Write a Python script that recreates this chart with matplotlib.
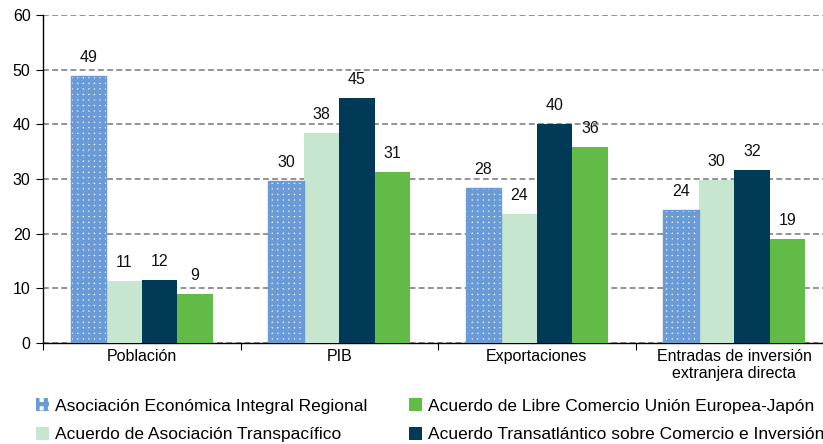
import matplotlib
matplotlib.use("Agg")
import matplotlib.pyplot as plt
import numpy as np
from matplotlib.patches import Patch

plt.rcParams['font.family'] = ['Liberation Sans', 'DejaVu Sans']
plt.rcParams['hatch.linewidth'] = 3.0

categories = ["Población", "PIB", "Exportaciones", "Entradas de inversión\nextranjera directa"]
series_names = ["Asociación Económica Integral Regional",
                "Acuerdo de Asociación Transpacífico",
                "Acuerdo Transatlántico sobre Comercio e Inversión",
                "Acuerdo de Libre Comercio Unión Europea-Japón"]
rcep = [48.8, 29.6, 28.4, 24.3]
tpp = [11.3, 38.4, 23.6, 29.8]
ttip = [11.6, 44.8, 40.1, 31.6]
eu_japan = [9.0, 31.3, 35.9, 19.1]
yticks = [0, 10, 20, 30, 40, 50, 60]

colors = ["#6a9bd6", "#c6e6cf", "#003a57", "#62bb47"]
series = [rcep, tpp, ttip, eu_japan]

fig = plt.figure(figsize=(8.23, 4.44), dpi=100)
ax = fig.add_axes([43/823, 1-343/444, (833-43)/823, (343-15)/444])

x = np.arange(len(categories))
w = 0.18
offsets = [-1.5*w, -0.5*w, 0.5*w, 1.5*w]
for i, (vals, c, name) in enumerate(zip(series, colors, series_names)):
    pos = x + offsets[i]
    if i == 0:
        ax.bar(pos, vals, w, facecolor='white', edgecolor=c, linewidth=0,
               hatch='+++', zorder=3)
        ax.bar(pos, vals, w, facecolor='none', edgecolor=c, linewidth=1.0, zorder=4)
    else:
        ax.bar(pos, vals, w, color=c, zorder=3, linewidth=0)
    for p, v in zip(pos, vals):
        ax.text(p, v + 2.0, f"{v:.0f}", ha='center', va='bottom', fontsize=11.5, color='#111111')

ax.set_xlim(-0.5, len(categories) - 0.5)
ax.set_ylim(0, 60)
ax.set_yticks(yticks)
ax.set_yticklabels([str(t) for t in yticks], fontsize=11.5)
ax.yaxis.grid(True, linestyle=(0, (3.5, 2)), color='#808080', linewidth=1.2, zorder=0)
ax.set_axisbelow(True)

ax.set_xticks(np.arange(-0.5, len(categories)), minor=False)
ax.set_xticklabels([])
ax.set_xticks(x, minor=True)
ax.set_xticklabels(categories, minor=True, fontsize=11.5, linespacing=1.2)
ax.tick_params(axis='x', which='minor', length=0, pad=4)
ax.tick_params(axis='x', which='major', length=5, direction='out')
ax.tick_params(axis='y', length=5, direction='out', pad=4)

for s in ['top', 'right']:
    ax.spines[s].set_visible(False)
ax.spines['left'].set_linewidth(1.0)
ax.spines['bottom'].set_linewidth(1.0)

leg_handles = [
    Patch(facecolor='white', edgecolor=colors[0], hatch='++', linewidth=0),
    Patch(facecolor=colors[1], linewidth=0),
    Patch(facecolor=colors[3], linewidth=0),
    Patch(facecolor=colors[2], linewidth=0),
]
leg_labels = [series_names[0], series_names[1], series_names[3], series_names[2]]
fig.legend(leg_handles, leg_labels, ncol=2, loc='upper left',
           bbox_to_anchor=(36/823, 1-398/444), frameon=False, fontsize=12.5,
           handlelength=0.75, handleheight=0.8, handletextpad=0.35,
           columnspacing=2.4, labelspacing=0.75, borderaxespad=0, borderpad=0)

fig.savefig("out.png", dpi=100)
